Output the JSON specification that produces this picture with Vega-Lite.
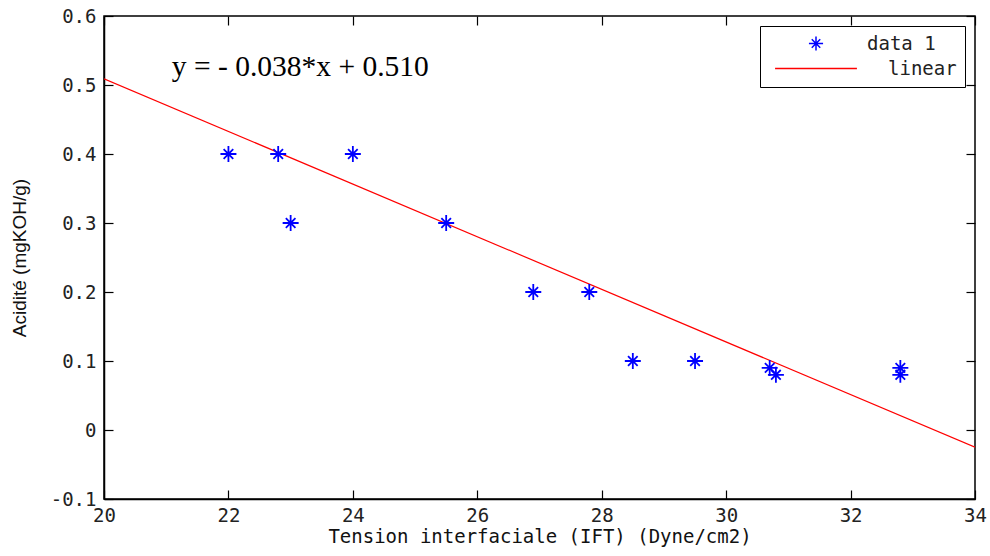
{
  "$schema": "https://vega.github.io/schema/vega-lite/v6.json",
  "autosize": "none",
  "width": 871,
  "height": 483,
  "padding": {"left": 104, "top": 16, "right": 15, "bottom": 57},
  "background": "white",
  "config": {
    "view": {"stroke": "black", "strokeWidth": 1.5},
    "font": "DejaVu Sans Mono",
    "axis": {
      "domainColor": "black",
      "domainWidth": 1.5,
      "tickColor": "black",
      "tickWidth": 1.2,
      "tickSize": -9,
      "grid": false,
      "labelFlush": false,
      "labelFont": "DejaVu Sans Mono",
      "labelFontSize": 19,
      "labelColor": "#222",
      "titleFont": "DejaVu Sans Mono",
      "titleFontWeight": "normal",
      "titleColor": "#111"
    }
  },
  "datasets": {
    "pts": [
      {"ift": 22.0, "acid": 0.40, "series": "data 1"},
      {"ift": 22.8, "acid": 0.40, "series": "data 1"},
      {"ift": 23.0, "acid": 0.30, "series": "data 1"},
      {"ift": 24.0, "acid": 0.40, "series": "data 1"},
      {"ift": 25.5, "acid": 0.30, "series": "data 1"},
      {"ift": 26.9, "acid": 0.20, "series": "data 1"},
      {"ift": 27.8, "acid": 0.20, "series": "data 1"},
      {"ift": 28.5, "acid": 0.10, "series": "data 1"},
      {"ift": 29.5, "acid": 0.10, "series": "data 1"},
      {"ift": 30.7, "acid": 0.09, "series": "data 1"},
      {"ift": 30.8, "acid": 0.08, "series": "data 1"},
      {"ift": 32.8, "acid": 0.09, "series": "data 1"},
      {"ift": 32.8, "acid": 0.08, "series": "data 1"}
    ],
    "fit": [
      {"ift": 20, "acid": 0.509, "series": "linear"},
      {"ift": 34, "acid": -0.025, "series": "linear"}
    ],
    "eq": [
      {"ift": 21.09, "acid": 0.526, "label": "y = - 0.038*x + 0.510"}
    ]
  },
  "resolve": {"axis": {"x": "independent", "y": "independent"}},
  "layer": [
    {
      "data": {"name": "fit"},
      "mark": {"type": "line", "color": "#ff0000", "strokeWidth": 1.2, "clip": true},
      "encoding": {
        "x": {"field": "ift", "type": "quantitative",
              "scale": {"domain": [20, 34], "nice": false, "zero": false},
              "axis": {"values": [20, 22, 24, 26, 28, 30, 32, 34], "format": "d", "labelPadding": 16,
                       "title": "Tension interfaciale (IFT) (Dyne/cm2)", "titleFontSize": 19, "titlePadding": 2}},
        "y": {"field": "acid", "type": "quantitative",
              "scale": {"domain": [-0.1, 0.6], "nice": false, "zero": false},
              "axis": {"values": [-0.1, 0, 0.1, 0.2, 0.3, 0.4, 0.5, 0.6],
                       "labelExpr": "datum.value < 0 ? '-' + format(-datum.value, '~g') : format(datum.value, '~g')",
                       "labelPadding": 17,
                       "title": "Acidité  (mgKOH/g)", "titleFontSize": 19, "titleFont": "Liberation Sans", "titlePadding": 21}},
        "color": {"field": "series", "type": "nominal",
                  "scale": {"domain": ["data 1", "linear"], "range": ["#0000ff", "#ff0000"]},
                  "legend": {
                    "orient": "none", "legendX": 656, "legendY": 10,
                    "title": null,
                    "strokeColor": "black", "fillColor": "white", "padding": 8,
                    "labelFontSize": 19, "labelColor": "#222", "labelFont": "DejaVu Sans Mono",
                    "symbolType": "stroke", "symbolSize": 6700, "symbolStrokeWidth": 1.5,
                    "labelOffset": 10, "rowPadding": 5,
                    "encode": {
                      "symbols": {"update": {
                        "shape": {"signal": "datum.value === 'linear' ? 'stroke' : 'M-1,0L1,0M0,-1L0,1M-0.6,-0.6L0.6,0.6M-0.6,0.6L0.6,-0.6'"},
                        "size": {"signal": "datum.value === 'linear' ? 6700 : 200"},
                        "x": {"value": 48},
                        "strokeWidth": {"value": 1.5}
                      }},
                      "labels": {"update": {
                        "x": {"signal": "datum.value === 'linear' ? 120 : 99"}
                      }}
                    }
                  }}
      }
    },
    {
      "data": {"name": "pts"},
      "mark": {"type": "point", "filled": false, "color": "#0000ff", "strokeWidth": 1.8,
               "shape": "M-1,0L1,0M0,-1L0,1M-0.6,-0.6L0.6,0.6M-0.6,0.6L0.6,-0.6", "size": 256, "opacity": 1},
      "encoding": {
        "x": {"field": "ift", "type": "quantitative",
              "axis": {"orient": "top", "values": [20, 22, 24, 26, 28, 30, 32, 34], "labels": false, "title": null, "domain": false}},
        "y": {"field": "acid", "type": "quantitative",
              "axis": {"orient": "right", "values": [-0.1, 0, 0.1, 0.2, 0.3, 0.4, 0.5, 0.6], "labels": false, "title": null, "domain": false}}
      }
    },
    {
      "data": {"name": "eq"},
      "mark": {"type": "text", "font": "Liberation Serif", "fontSize": 29.5, "align": "left", "baseline": "middle", "color": "black"},
      "encoding": {
        "x": {"field": "ift", "type": "quantitative", "axis": null},
        "y": {"field": "acid", "type": "quantitative", "axis": null},
        "text": {"field": "label"}
      }
    }
  ]
}
